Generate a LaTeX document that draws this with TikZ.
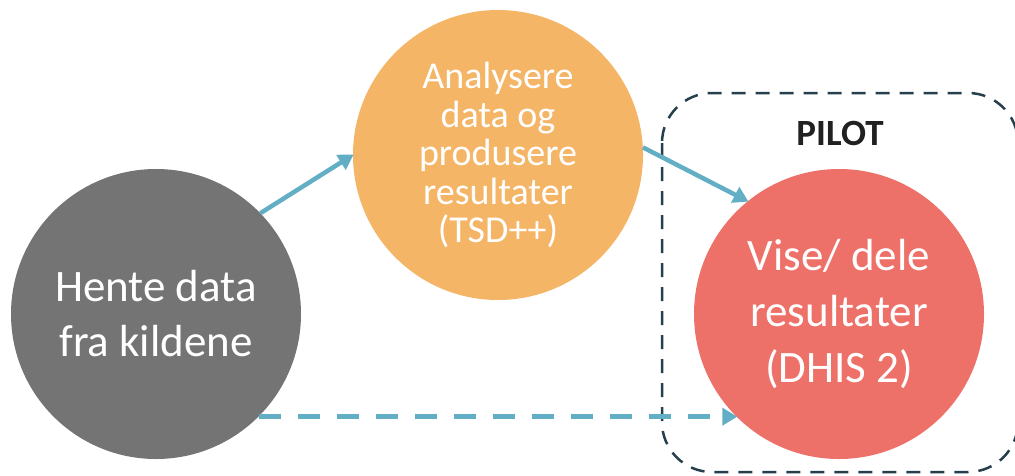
\documentclass[tikz,border=0pt]{standalone}
\usepackage{fontspec}
\setmainfont{Carlito}
\usetikzlibrary{arrows.meta}

\definecolor{stepgray}{HTML}{747474}
\definecolor{steporange}{HTML}{F5B567}
\definecolor{stepred}{HTML}{EE7169}
\definecolor{flowblue}{HTML}{62AEC5}
\definecolor{pilotframe}{HTML}{263F4C}
\definecolor{titlenavy}{HTML}{2E3660}

\tikzset{
  stage/.style={circle, minimum size=290pt, inner sep=0pt, text=white, align=center},
  flow/.style={draw=flowblue, line width=4.5pt,
    -{Triangle[length=15pt, width=17pt]}, shorten >=-1pt},
  flowdashed/.style={flow, dash pattern=on 22pt off 17pt},
  pilotbox/.style={draw=pilotframe, line width=2.5pt, rounded corners=50pt,
    dash pattern=on 14pt off 10pt},
}

\begin{document}
\begin{tikzpicture}[x=1pt, y=-1pt]
  \clip (0,0) rectangle (1015,475);

  % tail of the slide heading above the chart
  \node[anchor=base, text=titlenavy, font=\fontsize{46}{50}\selectfont\bfseries]
    (heading) at (621,-9) {g};

  % pilot frame, running off the right side
  \draw[pilotbox] (662,93) rectangle (1018,472);
  \node[font=\fontsize{37}{42}\selectfont\bfseries, text=black!87] (pilot) at (840,133) {PILOT};

  % process stages
  \node[stage, fill=stepgray, font=\fontsize{45}{55}\selectfont] (fetch) at (156,314)
    {Hente data\\fra kildene};
  \node[stage, fill=steporange, font=\fontsize{38}{38.5}\selectfont] (analyse) at (498,155)
    {Analysere\\data og\\produsere\\resultater\\(TSD++)};
  \node[stage, fill=stepred, font=\fontsize{45}{56}\selectfont] (share) at (839,314)
    {Vise/ dele\\resultater\\(DHIS 2)};

  % connectors
  \draw[flow] (fetch.44) -- (analyse.180);
  \draw[flow] (analyse.3) -- (share.129);
  \draw[flowdashed] (fetch.-45) -- (share.-135);
\end{tikzpicture}
\end{document}
